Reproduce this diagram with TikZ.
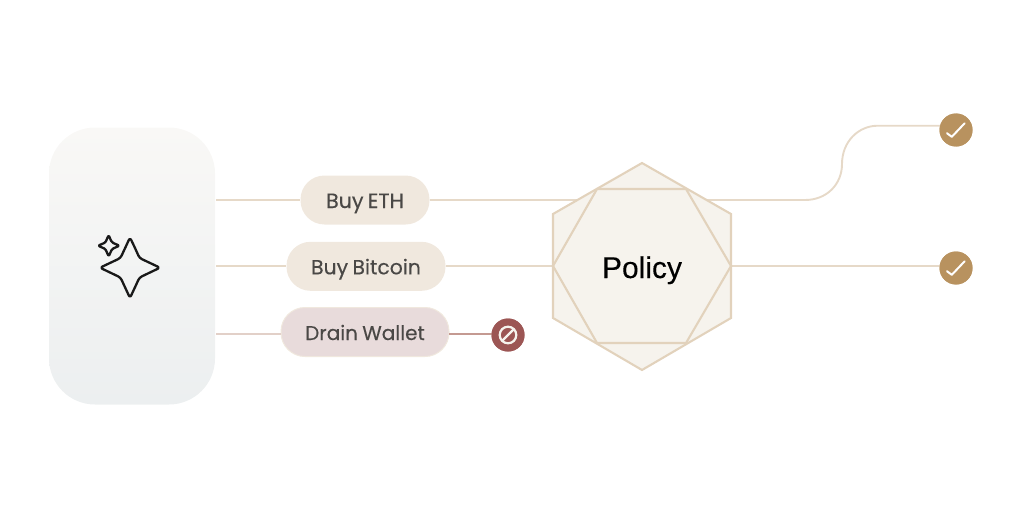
\documentclass[tikz,border=0pt]{standalone}
\usepackage{fontspec}
\setmainfont[WordSpace=0.8,FakeBold=0.25]{Poppins}
\newfontfamily\polfont[FakeBold=0.2]{Liberation Sans}
\definecolor{lineC}{HTML}{E6D9C8}
\definecolor{lineM}{HTML}{E2D0C8}
\definecolor{pillC}{HTML}{F0E8DE}
\definecolor{pillR}{HTML}{E8DBDB}
\definecolor{hexF}{HTML}{F6F3ED}
\definecolor{hexL}{HTML}{E2D2BC}
\definecolor{okC}{HTML}{B8925F}
\definecolor{noC}{HTML}{9C5654}
\definecolor{redL}{HTML}{C49A92}
\definecolor{txtC}{HTML}{4A4846}
\definecolor{boxT}{HTML}{F9F8F6}
\definecolor{boxB}{HTML}{ECEFF0}
\tikzset{x=1pt,y=-1pt,
 pill/.style={rounded corners=24pt,fill=pillC,minimum height=49pt,inner sep=0pt,text=txtC,text height=21pt,text depth=5pt,font=\fontsize{20}{22}\selectfont},
 conn/.style={draw=lineC,line width=1.9pt},
 dot/.style={circle,minimum size=33pt,inner sep=0pt},
 tickmark/.style={draw=white,line width=2pt,line cap=round,line join=round},
 sparkle/.style={draw=black!90,line width=2.3pt,line join=round}}
\begin{document}
\begin{tikzpicture}
\useasboundingbox (0,0) rectangle (1024,516);
\node[rounded corners=46pt,top color=boxT,bottom color=boxB,minimum width=166pt,minimum height=277pt,inner sep=0pt] (agent) at (132,266) {};
\node[pill,minimum width=129pt,font=\fontsize{20.6}{22}\selectfont] (eth) at (365,200) {Buy ETH};
\node[pill,minimum width=159pt,font=\fontsize{20.4}{22}\selectfont] (btc) at (366,266.3) {Buy Bitcoin};
\node[pill,minimum width=168pt,fill=pillR,draw=pillC,line width=1pt] (drain) at (365,332) {Drain Wallet};
\coordinate (hl) at (553,266.3);
\coordinate (hr) at (731,266.3);
\coordinate (e1) at (580,200);
\coordinate (e2) at (705,200);
\coordinate (a1) at (216,200);
\coordinate (a2) at (216,266.3);
\coordinate (a3) at (216,334);
\coordinate (d1) at (281,334);
\coordinate (d3) at (449,334);
\coordinate (c1) at (945,125.7);
\coordinate (c2) at (945,266.3);
\coordinate (n1) at (495,334);
\node[dot,fill=okC] (ok1) at (956,130) {};
\node[dot,fill=okC] (ok2) at (956,268) {};
\node[dot,fill=noC] (no) at (508,335) {};
% connectors
\draw[conn] (a1) -- (eth.west);
\draw[conn] (a2) -- (btc.west);
\draw[draw=lineM,line width=1.9pt] (a3) -- (d1);
\draw[conn] (eth.east) -- (e1);
\draw[conn] (btc.east) -- (hl);
\draw[conn] (e2) -- (805,200) .. controls (827,200) and (842,184) .. (842,164) .. controls (842,142) and (858,125.7) .. (878,125.7) -- (c1);
\draw[conn] (hr) -- (c2);
\draw[draw=redL,line width=1.9pt] (d3) -- (n1);
\node[dot,fill=okC] at (ok1) {};
\node[dot,fill=okC] at (ok2) {};
\node[dot,fill=noC] at (no) {};
% hexagon
\draw[fill=hexF,draw=hexL,line width=2.1pt,line join=miter] (642,163) -- (731,214) -- (731,318) -- (642,370) -- (553,318) -- (553,214) -- cycle;
\draw[draw=hexL,line width=2.1pt,line join=miter] (553,266) -- (597,189) -- (686,189) -- (731,266) -- (686,343) -- (597,343) -- cycle;
\node[text=black,font=\polfont\fontsize{30}{32}\selectfont,inner sep=0pt,text height=21pt,text depth=0pt] (pol) at (642,267.5) {Policy};
% checks
\draw[tickmark] ([shift={(-9,3.2)}]ok1.center) -- ([shift={(-4.2,6.8)}]ok1.center) -- ([shift={(8.6,-6.7)}]ok1.center);
\draw[tickmark] ([shift={(-9,3.2)}]ok2.center) -- ([shift={(-4.2,6.8)}]ok2.center) -- ([shift={(8.6,-6.7)}]ok2.center);
% no sign
\draw[draw=hexF,line width=2.2pt] (no) circle (8.3pt);
\draw[draw=hexF,line width=2.2pt] ([shift={(-5.8,5.8)}]no.center) -- ([shift={(5.8,-5.8)}]no.center);
% sparkles
\draw[sparkle,rounded corners=2.6pt] (135,248) -- (139.5,258) -- (160,267.7) -- (139.5,277.5) -- (130,298) -- (120.5,277.5) -- (100,267.7) -- (120.5,258) -- (130,237.5) -- (135,248);
\draw[sparkle,rounded corners=1.4pt] (110.5,239.5) -- (112,242.5) -- (119.5,245.7) -- (112,249) -- (108.7,256.5) -- (105.4,249) -- (98,245.7) -- (105.4,242.5) -- (108.7,235) -- (110.5,239.5);
\end{tikzpicture}
\end{document}
